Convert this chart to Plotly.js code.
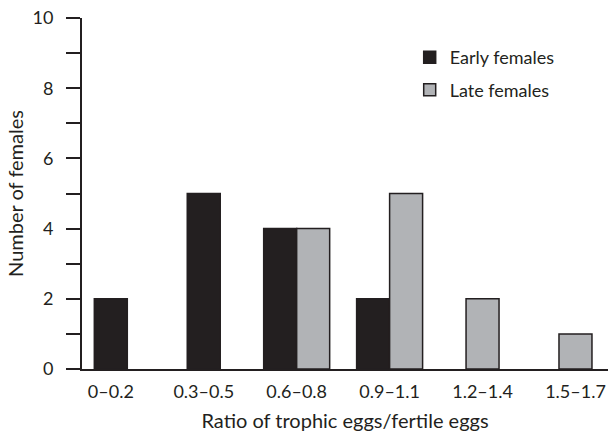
<!DOCTYPE html>
<html>
<head>
<meta charset="utf-8">
<script src="https://cdn.plot.ly/plotly-3.0.1.min.js"></script>
<style>
  html, body { margin: 0; padding: 0; background: #fff; }
  #chart { width: 609px; height: 433px; }
</style>
</head>
<body>
<div id="chart"></div>
<script>
const categories = ["0–0.2", "0.3–0.5", "0.6–0.8", "0.9–1.1", "1.2–1.4", "1.5–1.7"];
const earlyFemales = [2, 5, 4, 2, 0, 0];
const lateFemales = [0, 0, 4, 5, 2, 1];
const seriesNames = ["Early females", "Late females"];

const W = 0.355;
const earlyOffset = earlyFemales.map((v, i) => lateFemales[i] > 0 ? -W : -W / 2);
const lateOffset = lateFemales.map((v, i) => earlyFemales[i] > 0 ? 0 : -W / 2);
// zero counts draw no bar at all
const drawn = arr => arr.map(v => (v === 0 ? null : v));

const ink = "#231f20";
const font = "Lato, 'Open Sans', sans-serif";

const traces = [
  {
    type: "bar", name: seriesNames[0], x: categories, y: drawn(earlyFemales),
    width: W, offset: earlyOffset, legendgroup: "a",
    marker: { color: ink, line: { color: ink, width: 1.5 } }
  },
  {
    type: "bar", name: seriesNames[1], x: categories, y: drawn(lateFemales),
    width: W, offset: lateOffset, legendgroup: "b",
    marker: { color: "#b1b3b6", line: { color: ink, width: 1.5 } }
  }
];

const layout = {
  width: 609, height: 433,
  margin: { l: 82, r: 1, t: 18, b: 64 },
  paper_bgcolor: "#fff", plot_bgcolor: "#fff",
  barmode: "overlay",
  showlegend: true,
  font: { family: font, color: ink, size: 18 },
  legend: {
    x: 0.623, y: 0.94, xanchor: "left", yanchor: "top",
    font: { family: font, size: 18, color: ink },
    tracegroupgap: 6, bgcolor: "rgba(0,0,0,0)"
  },
  xaxis: {
    type: "category", range: [-0.31, 5.35],
    showline: true, linecolor: ink, linewidth: 2,
    ticks: "", showgrid: false, zeroline: false,
    tickfont: { family: font, size: 18, color: ink },
    ticklabelstandoff: 5,
    title: { text: "Ratio of trophic eggs/fertile eggs", font: { family: font, size: 20, color: ink }, standoff: 13 }
  },
  yaxis: {
    range: [0, 10], dtick: 2, tick0: 0,
    showline: true, linecolor: ink, linewidth: 2,
    ticks: "outside", ticklen: 14, tickwidth: 2, tickcolor: ink,
    minor: { dtick: 1, ticks: "outside", ticklen: 14, tickwidth: 2, tickcolor: ink, showgrid: false },
    showgrid: false, zeroline: false,
    tickfont: { family: font, size: 18, color: ink },
    ticklabelstandoff: 9,
    title: { text: "Number of females", font: { family: font, size: 20, color: ink }, standoff: 4 }
  }
};

Plotly.newPlot("chart", traces, layout, { displayModeBar: false, staticPlot: true });
</script>
</body>
</html>
